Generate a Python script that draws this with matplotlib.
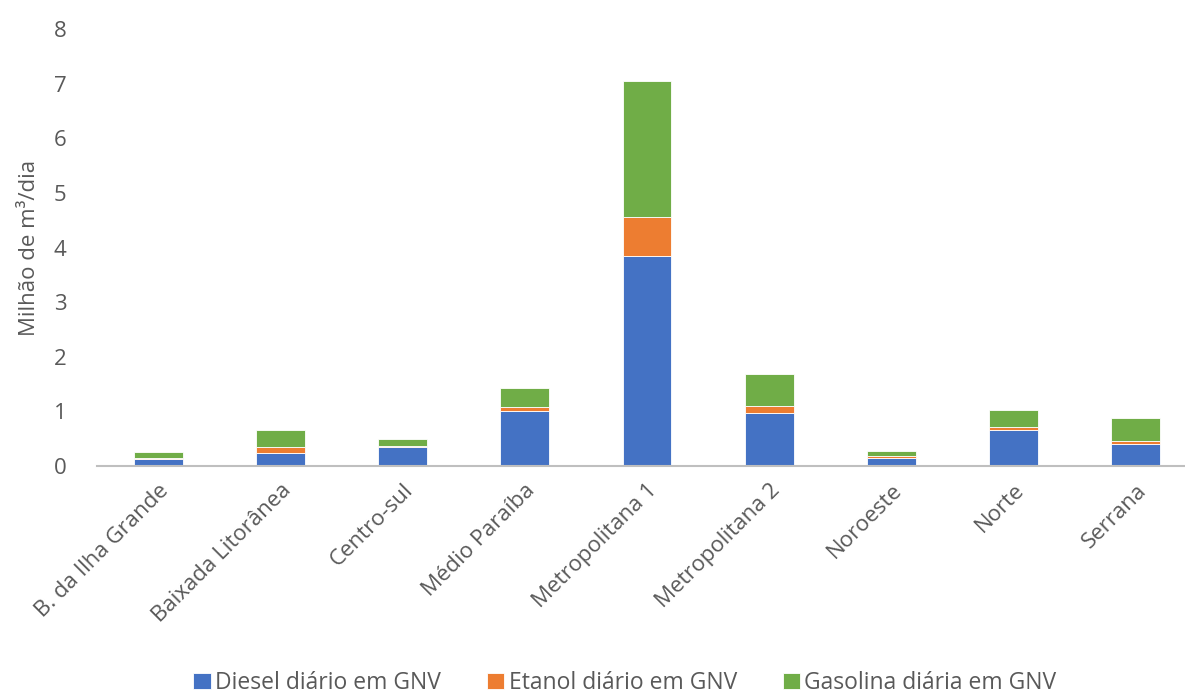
import matplotlib.pyplot as plt
import numpy as np

plt.rcParams['font.family'] = ['Open Sans', 'DejaVu Sans']

regioes = ['B. da Ilha Grande', 'Baixada Litorânea', 'Centro-sul', 'Médio Paraíba',
           'Metropolitana 1', 'Metropolitana 2', 'Noroeste', 'Norte', 'Serrana']
diesel = [0.12, 0.24, 0.34, 1.01, 3.84, 0.97, 0.14, 0.66, 0.40]
etanol = [0.02, 0.11, 0.03, 0.07, 0.72, 0.13, 0.04, 0.06, 0.06]
gasolina = [0.11, 0.30, 0.13, 0.34, 2.48, 0.58, 0.09, 0.30, 0.42]

cores = {'diesel': '#4472C4', 'etanol': '#ED7D31', 'gasolina': '#70AD47'}
cinza = '#595959'

fig = plt.figure(figsize=(11.85, 7), dpi=100)
ax = fig.add_axes([97 / 1185, 234 / 700, 1100 / 1185, 437 / 700])

x = np.arange(len(regioes))
d = np.array(diesel)
e = np.array(etanol)
g = np.array(gasolina)
w = 0.4
ax.bar(x, d, w, color=cores['diesel'], edgecolor='white', linewidth=0.6,
       label='Diesel diário em GNV')
ax.bar(x, e, w, bottom=d, color=cores['etanol'], edgecolor='white', linewidth=0.6,
       label='Etanol diário em GNV')
ax.bar(x, g, w, bottom=d + e, color=cores['gasolina'], edgecolor='white', linewidth=0.6,
       label='Gasolina diária em GNV')

ax.set_xlim(-0.5, len(regioes) - 0.5)
ax.set_ylim(0, 8)
ax.set_yticks(range(0, 9))
ax.set_xticks(x)
ax.set_xticklabels(regioes, rotation=45, ha='right', rotation_mode='anchor')
ax.tick_params(axis='both', length=0, labelsize=16, colors=cinza)
ax.tick_params(axis='y', pad=22)
ax.tick_params(axis='x', pad=10)
for lado in ['top', 'right', 'left']:
    ax.spines[lado].set_visible(False)
ax.spines['bottom'].set_color('#BFBFBF')
ax.spines['bottom'].set_linewidth(1.5)

ax.set_ylabel('Milhão de m³/dia', fontsize=16, color=cinza, labelpad=10)

fig.legend(loc='center', bbox_to_anchor=(625 / 1185, 17 / 700), ncol=3, frameon=False,
           fontsize=16.5, labelcolor=cinza, handlelength=0.75, handleheight=0.75,
           handletextpad=0.2, columnspacing=2.0)

fig.savefig('out.png', dpi=100)
